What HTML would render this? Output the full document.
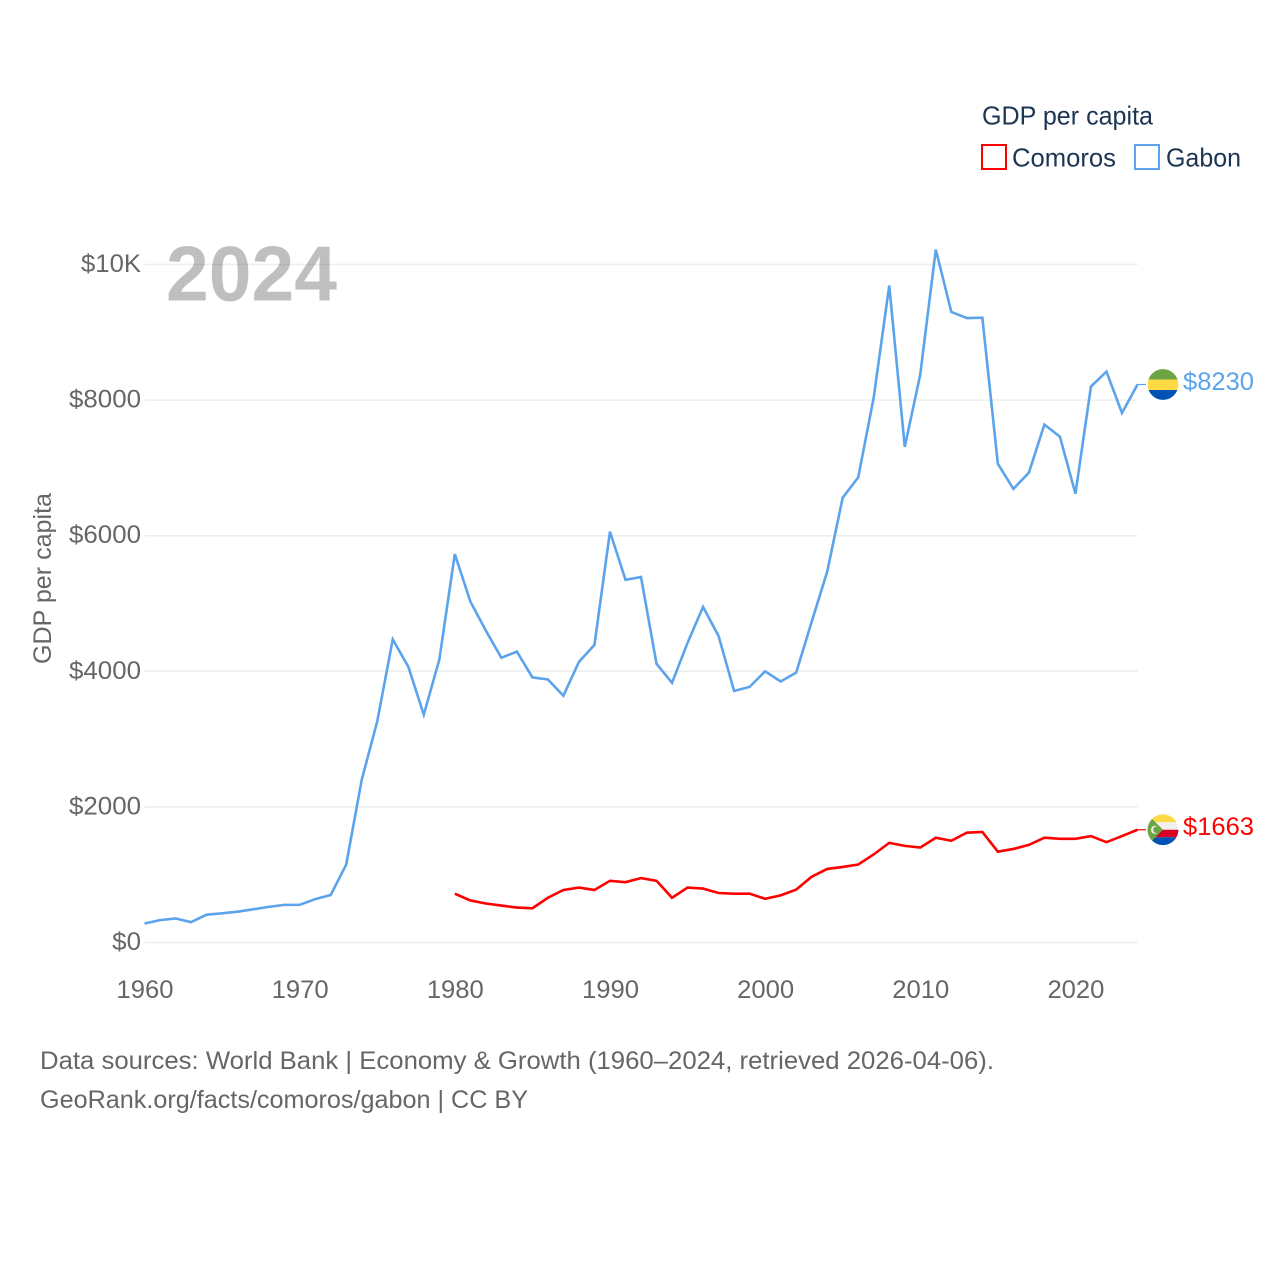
<!DOCTYPE html>
<html lang="en">
<head>
<meta charset="utf-8">
<title>GDP per capita: Comoros and Gabon</title>
<style>
html,body{margin:0;padding:0;background:#fff;}
svg{display:block;font-family:"Liberation Sans",Arial,sans-serif;}
</style>
</head>
<body>
<svg id="chart" xmlns="http://www.w3.org/2000/svg" width="1280" height="1280" viewBox="0 0 1280 1280">
  <defs>
    <clipPath id="flag-clip-gabon"><circle cx="1163" cy="384" r="15.4"/></clipPath>
    <clipPath id="flag-clip-comoros"><circle cx="1163" cy="830" r="15.4"/></clipPath>
  </defs>
  <rect x="0" y="0" width="1280" height="1280" fill="#fff"/>
  <g id="grid"></g>
  <text x="166" y="300.5" font-size="78" font-weight="700" fill="#000" fill-opacity="0.25" textLength="171" lengthAdjust="spacingAndGlyphs">2024</text>
  <g id="yticks"></g>
  <g id="xticks"></g>
  <text transform="translate(51,664) rotate(-90)" font-size="25" fill="#666" textLength="171" lengthAdjust="spacingAndGlyphs">GDP per capita</text>
  <g id="series"></g>

  <g id="flag-gabon" clip-path="url(#flag-clip-gabon)">
    <rect x="1147" y="368" width="32" height="11" fill="#6da544"/>
    <rect x="1147" y="379" width="32" height="10.5" fill="#ffda44"/>
    <rect x="1147" y="389.5" width="32" height="11" fill="#0052b4"/>
  </g>
  <g id="flag-comoros" clip-path="url(#flag-clip-comoros)">
    <rect x="1147" y="814" width="32" height="8.5" fill="#ffda44"/>
    <rect x="1147" y="822.5" width="32" height="7.5" fill="#f0f0f0"/>
    <rect x="1147" y="830" width="32" height="7.5" fill="#d80027"/>
    <rect x="1147" y="837.5" width="32" height="8.5" fill="#0052b4"/>
    <polygon points="1147,814 1163,830 1147,846" fill="#6da544"/>
    <circle cx="1155" cy="830" r="4" fill="#f0f0f0"/>
    <circle cx="1156.5" cy="830" r="3.4" fill="#6da544"/>
  </g>

  <g id="legend">
    <text x="982" y="124.5" font-size="26" fill="#1c3553" textLength="171" lengthAdjust="spacingAndGlyphs">GDP per capita</text>
    <g>
      <rect x="982" y="145" width="24" height="24" fill="none" stroke="#ff0000" stroke-width="2"/>
      <text x="1012" y="166.5" font-size="26" fill="#1c3553" textLength="104" lengthAdjust="spacingAndGlyphs">Comoros</text>
    </g>
    <g>
      <rect x="1135" y="145" width="24" height="24" fill="none" stroke="#5ba4ec" stroke-width="2"/>
      <text x="1166" y="166.5" font-size="26" fill="#1c3553" textLength="75" lengthAdjust="spacingAndGlyphs">Gabon</text>
    </g>
  </g>

  <g>
    <text x="40" y="1069" font-size="25" fill="#666" textLength="954" lengthAdjust="spacingAndGlyphs">Data sources: World Bank | Economy &amp; Growth (1960–2024, retrieved 2026-04-06).</text>
    <text x="40" y="1108" font-size="25" fill="#666" textLength="488" lengthAdjust="spacingAndGlyphs">GeoRank.org/facts/comoros/gabon | CC BY</text>
  </g>
</svg>
<script>
const yearStart = 1960;
const yearEnd = 2024;
const yTickValues = [0, 2000, 4000, 6000, 8000, 10000];
const yTickLabels = ["$0", "$2000", "$4000", "$6000", "$8000", "$10K"];
const xTickValues = [1960, 1970, 1980, 1990, 2000, 2010, 2020];
const xTickLabels = ["1960", "1970", "1980", "1990", "2000", "2010", "2020"];
const gabonStartYear = 1960;
const gabonValues = [280, 330, 355, 300, 410, 430, 455, 490, 525, 555,
  555, 640, 700, 1150, 2400, 3260, 4470, 4070, 3360, 4170,
  5730, 5030, 4600, 4200, 4290, 3910, 3880, 3640, 4140, 4390,
  6060, 5350, 5390, 4110, 3830, 4420, 4950, 4520, 3710, 3770,
  4000, 3850, 3980, 4730, 5470, 6560, 6860, 8040, 9690, 7310,
  8380, 10220, 9300, 9210, 9215, 7060, 6690, 6930, 7640, 7460,
  6620, 8200, 8420, 7810, 8230];
const comorosStartYear = 1980;
const comorosValues = [720, 620, 575, 545, 515, 505, 660, 775, 810, 775,
  910, 890, 950, 910, 660, 810, 795, 730, 720, 720,
  645, 695, 780, 970, 1085, 1115, 1150, 1300, 1470, 1425,
  1400, 1545, 1500, 1620, 1630, 1340, 1380, 1440, 1545, 1530,
  1530, 1570, 1480, 1570, 1663];

const SVG_NS = "http://www.w3.org/2000/svg";
const plotLeft = 144.5, plotRight = 1137.5, plotBottom = 942.5, plotTop = 264.5;
function xScale(year) {
  return plotLeft + (year - yearStart) / (yearEnd - yearStart) * (plotRight - plotLeft);
}
function yScale(value) {
  return plotBottom - value / 10000 * (plotBottom - plotTop);
}
function make(tag, attrs) {
  const el = document.createElementNS(SVG_NS, tag);
  for (const k in attrs) el.setAttribute(k, attrs[k]);
  return el;
}
function labelWidth(s) {
  if (s === "$10K") return 60;
  return s.length * 14.4;
}

const gridG = document.getElementById("grid");
const yG = document.getElementById("yticks");
yTickValues.forEach(function (v, i) {
  const y = yScale(v);
  const line = make("line", { x1: plotLeft, x2: plotRight, y1: y, y2: y, stroke: "#eeeeee", "stroke-width": 1.5 });
  
  
  gridG.appendChild(line);
  const t = make("text", {
    x: 141, y: yScale(v) + 7.5, "text-anchor": "end", "font-size": 25, fill: "#666",
    textLength: labelWidth(yTickLabels[i]), lengthAdjust: "spacingAndGlyphs"
  });
  
  
  t.textContent = yTickLabels[i];
  yG.appendChild(t);
});

const xG = document.getElementById("xticks");
xTickValues.forEach(function (v, i) {
  const t = make("text", {
    x: xScale(v) + 0.5, y: 998, "text-anchor": "middle", "font-size": 25, fill: "#666",
    textLength: 57, lengthAdjust: "spacingAndGlyphs"
  });
  
  
  t.textContent = xTickLabels[i];
  xG.appendChild(t);
});

const seriesG = document.getElementById("series");
function drawSeries(values, startYear, color, lineName, stubName, labelName, flagId) {
  const pts = values.map(function (v, i) {
    return xScale(startYear + i).toFixed(2) + "," + yScale(v).toFixed(2);
  }).join(" ");
  const path = make("polyline", { points: pts, fill: "none", stroke: color, "stroke-width": 2.6, "stroke-linejoin": "miter", "stroke-linecap": "butt" });
  
  
  seriesG.appendChild(path);

  const last = values[values.length - 1];
  const ly = yScale(last);
  const stub = make("line", { x1: plotRight, x2: 1146, y1: ly, y2: ly, stroke: color, "stroke-width": 1.2 });
  
  
  seriesG.appendChild(stub);

  const label = make("text", { x: 1183, y: ly + 5.5, "font-size": 25, fill: color, textLength: 71, lengthAdjust: "spacingAndGlyphs" });
  
  
  label.textContent = "$" + Math.round(last);
  seriesG.appendChild(label);

  const baseY = flagId === "flag-gabon" ? 384 : 830;
  document.getElementById(flagId).setAttribute("transform", "translate(0," + (ly - baseY).toFixed(2) + ")");
}
drawSeries(gabonValues, gabonStartYear, "#5ba4ec", "gabon-line", "gabon-end-connector", "gabon-value-label", "flag-gabon");
drawSeries(comorosValues, comorosStartYear, "#ff0000", "comoros-line", "comoros-end-connector", "comoros-value-label", "flag-comoros");
</script>
</body>
</html>
